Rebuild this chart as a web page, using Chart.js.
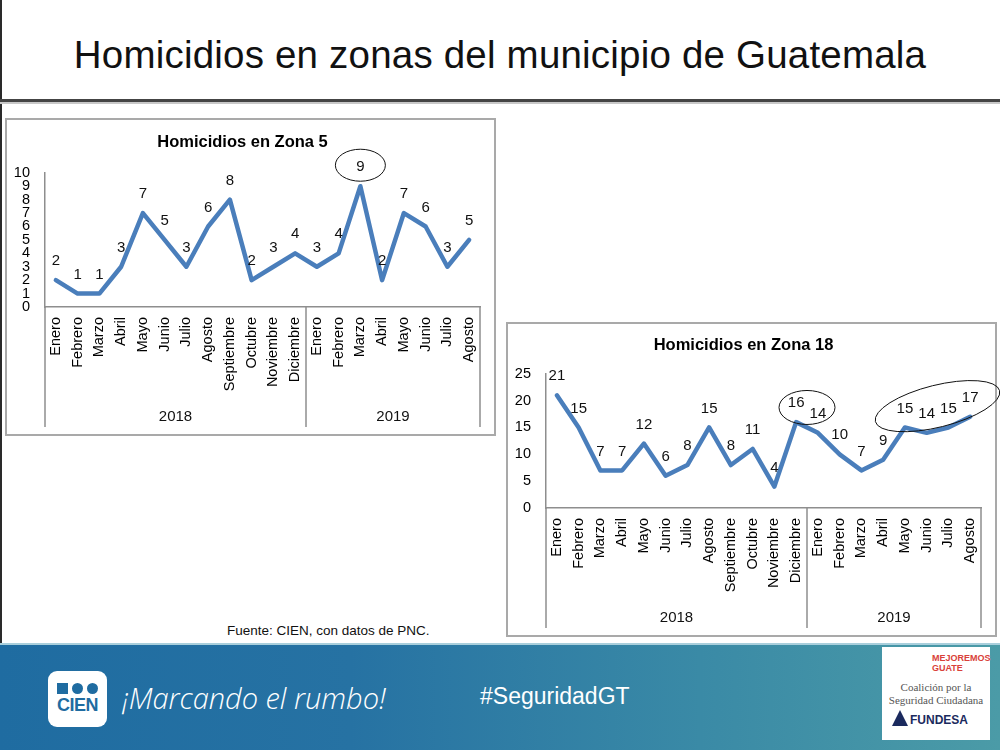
<!DOCTYPE html>
<html>
<head>
<meta charset="utf-8">
<script src="https://cdn.jsdelivr.net/npm/chart.js@4.4.1/dist/chart.umd.min.js"></script>
<style>
  body { margin:0; width:1000px; height:750px; position:relative; overflow:hidden; background:#fff; font-family:"Liberation Sans", Arial, sans-serif; }
  .abs { position:absolute; }
  #edge { left:0; top:0; width:2px; height:643px; background:#2a2a2a; }
  #title { left:0; top:33px; width:1000px; text-align:center; font-size:38.5px; color:#111; letter-spacing:0.2px; }
  #rule { left:0; top:99px; width:1000px; height:3px; background:#444; }
  #rule2 { left:0; top:102px; width:1000px; height:2px; background:#c8c8c8; }
  .box { border:2px solid #a9a9a9; box-sizing:border-box; background:#fff; }
  #box1 { left:5px; top:118px; width:491px; height:318px; }
  #box2 { left:506px; top:322px; width:491px; height:315px; }
  #w1 { left:5px; top:118px; width:492px; height:318px; }
  #w2 { left:506px; top:322px; width:494px; height:315px; }
  #fuente { left:227px; top:623px; font-size:13.5px; color:#111; }
  #band { left:0; top:643px; width:1000px; height:107px; background:linear-gradient(90deg, #1f6ca1 0%, #2672a3 35%, #3a8aa6 70%, #4b9ba7 100%); border-top:2px solid #a9cfdc; box-sizing:border-box; }
  #cien { left:48px; top:671px; width:59px; height:56px; background:#fff; border-radius:9px; }
  #cien .shape { position:absolute; top:12px; width:11px; height:11px; background:#1f6ca1; }
  #cien .txt { position:absolute; left:0; top:24px; width:59px; text-align:center; font-weight:bold; font-size:18px; color:#1f6ca1; letter-spacing:-0.5px; }
  #lema { left:122px; top:678px; font-size:29px; font-style:italic; color:#fff; font-family:"Open Sans", sans-serif; font-weight:300; }
  #hash { left:480px; top:683px; font-size:23px; color:#fff; }
  #logo2 { left:882px; top:647px; width:108px; height:93px; background:#fff; text-align:center; }
  #logo2 .mej { position:absolute; left:50px; top:6px; font-size:9px; font-weight:bold; color:#d9413a; text-align:left; line-height:10px; }
  #logo2 .coal { position:absolute; left:0; top:34px; width:108px; font-family:"Liberation Serif", serif; font-size:11px; color:#555; line-height:13px; }
  #logo2 .fun { position:absolute; left:28px; top:66px; font-size:12px; font-weight:bold; color:#1b2a5e; }
  #logo2 .tri { position:absolute; left:10px; top:63px; width:0; height:0; border-left:8px solid transparent; border-right:8px solid transparent; border-bottom:16px solid #1b2a5e; }
</style>
</head>
<body>
<div id="edge" class="abs"></div>
<div id="title" class="abs">Homicidios en zonas del municipio de Guatemala</div>
<div id="rule" class="abs"></div>
<div id="rule2" class="abs"></div>

<div id="box1" class="abs box"></div>
<div id="box2" class="abs box"></div>
<div id="w1" class="abs"><canvas id="zona5"></canvas></div>
<div id="w2" class="abs"><canvas id="zona18"></canvas></div>

<div id="fuente" class="abs">Fuente: CIEN, con datos de PNC.</div>

<div id="band" class="abs"></div>
<div id="cien" class="abs">
  <div class="shape" style="left:9px"></div>
  <div class="shape" style="left:24px;border-radius:50%"></div>
  <div class="shape" style="left:39px;border-radius:50%"></div>
  <div class="txt">CIEN</div>
</div>
<div id="lema" class="abs">¡Marcando el rumbo!</div>
<div id="hash" class="abs">#SeguridadGT</div>
<div id="logo2" class="abs">
  <div class="mej">MEJOREMOS<br>GUATE</div>
  <div class="coal">Coalición por la<br>Seguridad Ciudadana</div>
  <div class="tri"></div>
  <div class="fun">FUNDESA</div>
</div>

<script>
// **Data

let months = ['Enero', 'Febrero', 'Marzo', 'Abril', 'Mayo', 'Junio', 'Julio', 'Agosto', 'Septiembre', 'Octubre', 'Noviembre', 'Diciembre',
  'Enero', 'Febrero', 'Marzo', 'Abril', 'Mayo', 'Junio', 'Julio', 'Agosto'];
let years = ['2018', '2019'];
let monthsPerYear = [12, 8];

let zona5 = [2, 1, 1, 3, 7, 5, 3, 6, 8, 2, 3, 4, 3, 4, 9, 2, 7, 6, 3, 5];
let zona18 = [21, 15, 7, 7, 12, 6, 8, 15, 8, 11, 4, 16, 14, 10, 7, 9, 15, 14, 15, 17];

let yMax5 = 10, yStep5 = 1;
let yMax18 = 25, yStep18 = 5;

let fontFamily = '"Liberation Sans", Arial, sans-serif';
let lineColor = '#4a7ebb';
let axisColor = '#8e8e8e';

//** Plugins **/

// numbers above every point
let valueLabels = {
  id: 'valueLabels',
  afterDatasetsDraw(chart) {
    let ctx = chart.ctx;
    let meta = chart.getDatasetMeta(0);
    let values = chart.data.datasets[0].data;
    ctx.save();
    ctx.font = '15px ' + fontFamily;
    ctx.fillStyle = '#111';
    ctx.textAlign = 'center';
    ctx.textBaseline = 'middle';
    for (let i = 0; i < meta.data.length; i++) {
      ctx.fillText(values[i], meta.data[i].x, meta.data[i].y - 19);
    }
    ctx.restore();
  }
};

// year row under the month labels, with the separators
let yearGroups = {
  id: 'yearGroups',
  afterDraw(chart, args, opts) {
    let ctx = chart.ctx;
    let x = chart.scales.x;
    let area = chart.chartArea;
    let edges = [area.left];
    let count = 0;
    monthsPerYear.forEach(n => {
      count += n;
      if (count >= months.length) edges.push(area.right);
      else edges.push((x.getPixelForValue(count - 1) + x.getPixelForValue(count)) / 2);
    });
    ctx.save();
    ctx.strokeStyle = axisColor;
    ctx.lineWidth = 1.5;
    edges.forEach(e => {
      ctx.beginPath();
      ctx.moveTo(e, area.bottom);
      ctx.lineTo(e, opts.bottom);
      ctx.stroke();
    });
    ctx.font = '15px ' + fontFamily;
    ctx.fillStyle = '#111';
    ctx.textAlign = 'center';
    ctx.textBaseline = 'middle';
    years.forEach((yr, i) => ctx.fillText(yr, (edges[i] + edges[i + 1]) / 2, opts.labelY));
    ctx.restore();
  }
};

// hand drawn circles round some points
let circles = {
  id: 'circles',
  afterDraw(chart, args, opts) {
    let ctx = chart.ctx;
    let meta = chart.getDatasetMeta(0);
    ctx.save();
    ctx.strokeStyle = '#111';
    ctx.lineWidth = 1;
    (opts.items || []).forEach(c => {
      let sx = 0, sy = 0;
      for (let i = c.from; i <= c.to; i++) { sx += meta.data[i].x; sy += meta.data[i].y; }
      let n = c.to - c.from + 1;
      ctx.beginPath();
      ctx.ellipse(sx / n + (c.dx || 0), sy / n + c.dy, c.rx, c.ry, (c.rot || 0) * Math.PI / 180, 0, Math.PI * 2);
      ctx.stroke();
    });
    ctx.restore();
  }
};

function makeChart(canvasId, title, values, yMax, yStep, cfg) {
  return new Chart(document.getElementById(canvasId), {
    type: 'line',
    data: {
      labels: months,
      datasets: [{
        data: values,
        borderColor: lineColor,
        borderWidth: 4.5,
        pointRadius: 0,
        tension: 0,
        borderJoinStyle: 'round',
        borderCapStyle: 'round'
      }]
    },
    options: {
      responsive: true,
      maintainAspectRatio: false,
      animation: false,
      layout: { padding: { left: 0, right: cfg.padRight, top: 0, bottom: cfg.padBottom } },
      plugins: {
        legend: { display: false },
        tooltip: { enabled: false },
        title: {
          display: true,
          text: title,
          color: '#000',
          font: { family: fontFamily, size: 16.5, weight: 'bold' },
          padding: cfg.titlePad
        },
        yearGroups: { bottom: cfg.sepBottom, labelY: cfg.yearY },
        circles: { items: cfg.circles }
      },
      scales: {
        x: {
          offset: true,
          grid: { display: false, drawTicks: false },
          border: { display: true, color: axisColor, width: 1.5 },
          ticks: { color: '#000', font: { family: fontFamily, size: 14.5 }, minRotation: 90, maxRotation: 90, autoSkip: false, padding: 10 },
          afterFit(scale) { scale.height = cfg.xHeight; }
        },
        y: {
          min: 0,
          max: yMax,
          grid: { display: false, drawTicks: false },
          border: { display: true, color: axisColor, width: 1.5 },
          ticks: { stepSize: yStep, autoSkip: false, color: '#000', font: { family: fontFamily, size: 14.5 }, padding: 15 },
          afterFit(scale) { scale.width = 40; }
        }
      }
    },
    plugins: [valueLabels, yearGroups, circles]
  });
}

//Executable Code

makeChart('zona5', 'Homicidios en Zona 5', zona5, yMax5, yStep5, {
  padRight: 17, padBottom: 11, titlePad: { top: 15, bottom: 20 }, xHeight: 118,
  sepBottom: 309, yearY: 299,
  circles: [{ from: 14, to: 14, dy: -21, rx: 25, ry: 16 }]
});

makeChart('zona18', 'Homicidios en Zona 18', zona18, yMax18, yStep18, {
  padRight: 19, padBottom: 10, titlePad: { top: 14, bottom: 18 }, xHeight: 119,
  sepBottom: 306, yearY: 296,
  circles: [
    { from: 11, to: 12, dy: -20, rx: 28, ry: 17 },
    { from: 16, to: 19, dy: -20, rx: 64, ry: 21, rot: -14 }
  ]
});
</script>
</body>
</html>
